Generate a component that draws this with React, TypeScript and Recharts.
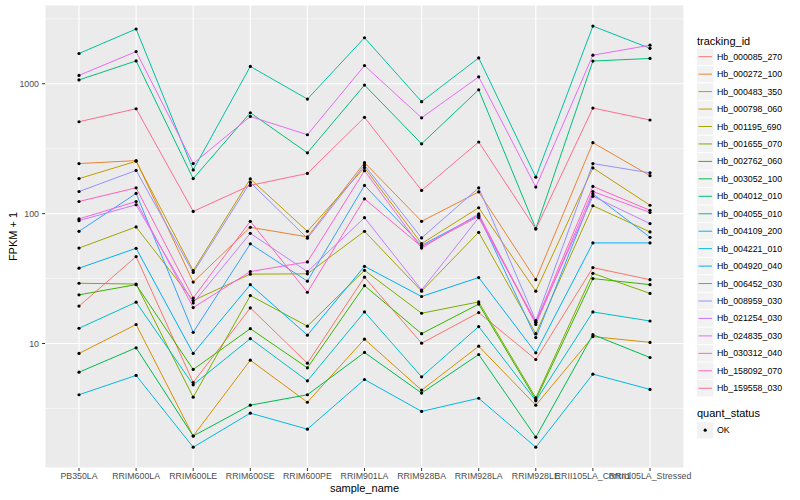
import React from 'react';
import { LineChart, Line, XAxis, YAxis, CartesianGrid, ReferenceLine } from 'recharts';

// FPKM + 1 per sample, log axis.
const categories = [
  'PB350LA', 'RRIM600LA', 'RRIM600LE', 'RRIM600SE', 'RRIM600PE', 'RRIM901LA',
  'RRIM928BA', 'RRIM928LA', 'RRIM928LE', 'RRII105LA_Control', 'RRII105LA_Stressed',
];

const trackingIds = [
  'Hb_000085_270', 'Hb_000272_100', 'Hb_000483_350', 'Hb_000798_060', 'Hb_001195_690',
  'Hb_001655_070', 'Hb_002762_060', 'Hb_003052_100', 'Hb_004012_010', 'Hb_004055_010',
  'Hb_004109_200', 'Hb_004221_010', 'Hb_004920_040', 'Hb_006452_030', 'Hb_008959_030',
  'Hb_021254_030', 'Hb_024835_030', 'Hb_030312_040', 'Hb_158092_070', 'Hb_159558_030',
];

// ggplot default hue palette, 20 levels
const lineColors = [
  '#F8766D', '#EA8331', '#D89000', '#C09B00', '#A3A500', '#7CAE00', '#39B600', '#00BB4E', '#00BF7D', '#00C1A3',
  '#00BFC4', '#00BAE0', '#00B0F6', '#35A2FF', '#9590FF', '#C77CFF', '#E76BF3', '#FA62DB', '#FF62BC', '#FF6C91',
];

const hb000085 = [19.4, 46.7, 5.01, 18.8, 7.05, 32.4, 10.05, 17.3, 7.53, 38.4, 31.0];
const hb000272 = [243, 256, 29.7, 78.5, 66.2, 247, 87.3, 147, 31, 352, 196];
const hb000483 = [8.38, 14.0, 1.94, 7.44, 3.53, 10.8, 4.37, 9.53, 3.35, 11.3, 10.2];
const hb000798 = [186, 253, 36.4, 185, 73.1, 226, 58.8, 111, 25.3, 225, 116];
const hb001195 = [54.3, 79, 21.4, 34.2, 34.4, 73.1, 25.3, 71.8, 11.9, 115, 72.3];
const hb001655 = [29.1, 28.7, 3.86, 23.4, 13.6, 36.6, 17.1, 20.9, 3.82, 34.7, 24.3];
const hb002762 = [23.7, 28.4, 6.31, 13.0, 6.5, 27.9, 11.9, 20.1, 3.69, 31.6, 28.4];
const hb003052 = [6.01, 9.27, 1.94, 3.35, 4.03, 8.53, 4.15, 8.23, 1.9, 11.7, 7.8];
const hb004012 = [1070, 1500, 186, 598, 294, 977, 345, 899, 76.7, 1496, 1566];
const hb004055 = [1710, 2640, 217, 1360, 762, 2260, 728, 1580, 191, 2780, 1875];
const hb004109 = [13.1, 20.8, 4.81, 10.9, 5.16, 17.5, 5.54, 13.5, 3.62, 17.5, 14.9];
const hb004221 = [4.03, 5.68, 1.59, 2.91, 2.19, 5.28, 3.0, 3.79, 1.59, 5.81, 4.43];
const hb004920 = [38.0, 54.1, 8.38, 28.4, 11.6, 39.3, 23.0, 32.2, 8.48, 59.5, 59.5];
const hb006452 = [73.1, 143, 12.2, 58.5, 30.2, 165, 57, 97.3, 11.1, 142, 65.7];
const hb008959 = [148, 215, 35.2, 174, 64.6, 236, 65, 158, 15.0, 243, 206];
const hb021254 = [88.3, 117, 20.5, 70.5, 35.8, 93.1, 25.8, 93.1, 14.5, 136, 83.8];
const hb024835 = [1160, 1770, 243, 560, 405, 1380, 547, 1130, 160, 1660, 1980];
const hb030312 = [91, 124, 18.9, 35.8, 42.5, 214, 54.3, 99.5, 14.0, 148, 102];
const hb158092 = [124, 158, 22.4, 87.3, 24.8, 130, 55.7, 95.3, 14.6, 162, 106];
const hb159558 = [510, 642, 104, 165, 204, 551, 151, 356, 76, 650, 526];

const seriesValues = [
  hb000085, hb000272, hb000483, hb000798, hb001195, hb001655, hb002762, hb003052, hb004012, hb004055,
  hb004109, hb004221, hb004920, hb006452, hb008959, hb021254, hb024835, hb030312, hb158092, hb159558,
];

const yTicks = [10, 100, 1000];
const yMinor = [3.162, 31.62, 316.2, 3162];

const data = categories.map((sample, i) => {
  const row: Record<string, string | number> = { sample };
  trackingIds.forEach((id, s) => { row[id] = seriesValues[s][i]; });
  return row;
});

const FONT = '"Liberation Sans", Arial, sans-serif';

export default function App() {
  return (
    <div style={{ position: 'absolute', left: 0, top: 0, width: 800, height: 500, background: '#fff', fontFamily: FONT }}>
      <LineChart width={800} height={500} data={data} margin={{ top: 5, right: 116, bottom: 0, left: 0 }}>
        <CartesianGrid fill="#EBEBEB" stroke="#FFFFFF" strokeWidth={1.1} strokeDasharray="" />
        {yMinor.map(v => (
          <ReferenceLine key={v} y={v} stroke="#FFFFFF" strokeWidth={0.55} />
        ))}
        <XAxis dataKey="sample" scale="point" padding={{ left: 34, right: 34 }} interval={0} height={32}
          axisLine={false} tickSize={3} tickLine={{ stroke: '#333333' }}
          tick={{ fontSize: 8.8, fill: '#4D4D4D', fontFamily: FONT }} />
        <YAxis type="number" scale="log" domain={[1.1, 4040]} allowDataOverflow ticks={yTicks} width={45}
          axisLine={false} tickSize={3} tickMargin={3} tickLine={{ stroke: '#333333' }}
          tick={{ fontSize: 8.8, fill: '#4D4D4D', fontFamily: FONT }} />
        {trackingIds.map((id, s) => (
          <Line key={id} dataKey={id} stroke={lineColors[s]} strokeWidth={1} dot={false}
            activeDot={false} isAnimationActive={false} type="linear" />
        ))}
        {trackingIds.map(id => (
          <Line key={id + '-pt'} dataKey={id} stroke="none" legendType="none"
            dot={{ r: 1.6, fill: '#000', stroke: 'none' }} activeDot={false} isAnimationActive={false} />
        ))}
      </LineChart>
      <svg width={800} height={500} style={{ position: 'absolute', left: 0, top: 0, pointerEvents: 'none' }}
        fontFamily={FONT}>
        <text x={364.5} y={488} textAnchor="middle" dominantBaseline="central" fontSize={11} fill="#000">sample_name</text>
        <text x={13} y={236.5} textAnchor="middle" dominantBaseline="central" fontSize={11} fill="#000"
          transform="rotate(-90 13 236.5)">FPKM + 1</text>
        <text x={697} y={41} dominantBaseline="central" fontSize={11} fill="#000">tracking_id</text>
        {trackingIds.map((id, i) => {
          const cy = 56.7 + i * 17.45;
          return (
            <g key={id}>
              <rect x={697} y={cy - 8.2} width={16.4} height={16.4} fill="#F2F2F2" />
              <line x1={698.5} x2={712} y1={cy} y2={cy} stroke={lineColors[i]} strokeWidth={1} />
              <text x={717} y={cy} dominantBaseline="central" fontSize={8.8} fill="#000">{id}</text>
            </g>
          );
        })}
        <text x={697} y={412.7} dominantBaseline="central" fontSize={11} fill="#000">quant_status</text>
        <rect x={697} y={422} width={16.4} height={16.4} fill="#F2F2F2" />
        <circle cx={705.2} cy={430.2} r={1.6} fill="#000" />
        <text x={717} y={430.2} dominantBaseline="central" fontSize={8.8} fill="#000">OK</text>
      </svg>
    </div>
  );
}
